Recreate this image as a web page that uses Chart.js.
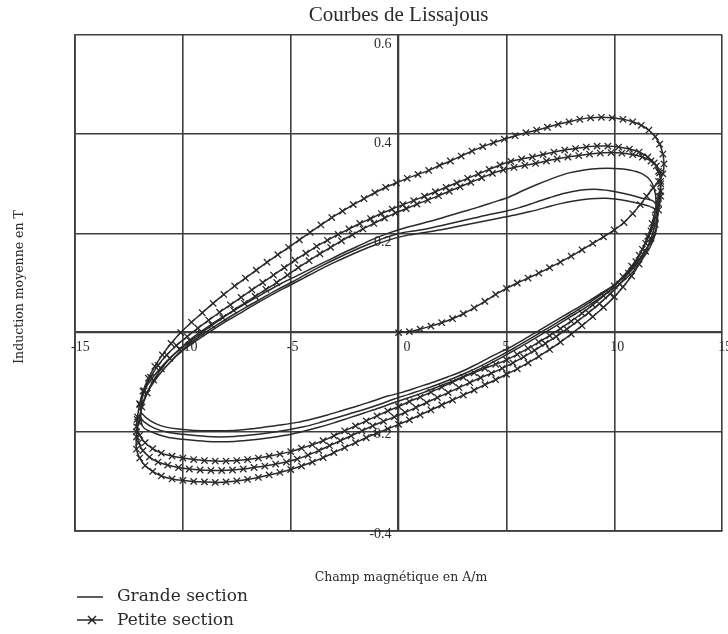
<!DOCTYPE html>
<html>
<head>
<meta charset="utf-8">
<title>Courbes de Lissajous</title>
<script src="https://cdn.jsdelivr.net/npm/chart.js"></script>
<style>
  html, body { margin: 0; padding: 0; background: #fff; }
  canvas { display: block; }
</style>
</head>
<body>
<canvas id="lissajous" width="728" height="634"></canvas>
<script>
// Champ H (A/m), induction B (T) : une branche par tableau
var hTicks = [-15, -10, -5, 0, 5, 10, 15];
var bTicks = [0.6, 0.4, 0.2, -0.2, -0.4];

// Grande section : trois cycles
var grandeUp1 = [[11.95,0.25],[11.9,0.28],[11.7,0.305],[11.3,0.32],[10.7,0.328],[10.0,0.331],[9.3,0.331],[8.6,0.328],[7.9,0.322],[7.2,0.312],[6.5,0.3],[5.8,0.287],[5.1,0.273],[4.4,0.263],[3.7,0.253],[3.0,0.244],[2.3,0.235],[1.6,0.226],[0.9,0.218],[0.2,0.21],[-0.5,0.2],[-1.2,0.188],[-1.9,0.174],[-2.6,0.16],[-3.3,0.145],[-4.0,0.13],[-4.7,0.115],[-5.4,0.1],[-6.1,0.083],[-6.8,0.066],[-7.5,0.048],[-8.2,0.03],[-8.9,0.01],[-9.6,-0.012],[-10.2,-0.035],[-10.8,-0.06],[-11.3,-0.085],[-11.7,-0.11],[-11.9,-0.135],[-11.95,-0.155]];
var grandeDown1 = [[-11.9,-0.163],[-11.5,-0.178],[-11.0,-0.188],[-10.3,-0.194],[-9.6,-0.197],[-8.9,-0.198],[-8.2,-0.198],[-7.5,-0.197],[-6.8,-0.194],[-6.1,-0.19],[-5.4,-0.186],[-4.7,-0.181],[-4.0,-0.174],[-3.3,-0.166],[-2.6,-0.157],[-1.9,-0.148],[-1.2,-0.138],[-0.5,-0.128],[0.2,-0.12],[0.9,-0.11],[1.6,-0.1],[2.3,-0.089],[3.0,-0.077],[3.7,-0.062],[4.4,-0.046],[5.1,-0.031],[5.8,-0.014],[6.5,0.004],[7.2,0.022],[7.9,0.04],[8.6,0.058],[9.3,0.077],[10.0,0.097],[10.6,0.12],[11.1,0.145],[11.5,0.17],[11.8,0.19],[11.95,0.21],[12.0,0.235]];
var grandeUp2 = [[12.0,0.25],[11.8,0.265],[11.2,0.272],[10.5,0.28],[9.8,0.286],[9.1,0.289],[8.4,0.287],[7.7,0.281],[7.0,0.272],[6.3,0.262],[5.6,0.252],[4.9,0.244],[4.2,0.238],[3.5,0.231],[2.8,0.224],[2.1,0.217],[1.4,0.21],[0.7,0.205],[0.0,0.2],[-0.7,0.19],[-1.4,0.178],[-2.1,0.165],[-2.8,0.151],[-3.5,0.136],[-4.2,0.12],[-4.9,0.103],[-5.6,0.087],[-6.3,0.07],[-7.0,0.053],[-7.7,0.035],[-8.4,0.016],[-9.1,-0.004],[-9.8,-0.026],[-10.4,-0.05],[-10.9,-0.075],[-11.4,-0.1],[-11.7,-0.125],[-11.9,-0.15],[-11.95,-0.17]];
var grandeDown2 = [[-11.8,-0.18],[-11.3,-0.193],[-10.7,-0.201],[-10.0,-0.205],[-9.3,-0.208],[-8.6,-0.21],[-7.9,-0.21],[-7.2,-0.208],[-6.5,-0.205],[-5.8,-0.201],[-5.1,-0.196],[-4.4,-0.19],[-3.7,-0.182],[-3.0,-0.173],[-2.3,-0.164],[-1.6,-0.155],[-0.9,-0.145],[-0.2,-0.134],[0.5,-0.124],[1.2,-0.114],[1.9,-0.103],[2.6,-0.091],[3.3,-0.078],[4.0,-0.063],[4.7,-0.047],[5.4,-0.03],[6.1,-0.012],[6.8,0.006],[7.5,0.024],[8.2,0.043],[8.9,0.062],[9.6,0.083],[10.3,0.106],[10.9,0.13],[11.3,0.155],[11.65,0.18],[11.9,0.205],[12.0,0.23]];
var grandeUp3 = [[12.0,0.245],[11.6,0.255],[11.0,0.262],[10.3,0.268],[9.6,0.271],[8.9,0.27],[8.2,0.266],[7.5,0.26],[6.8,0.252],[6.1,0.244],[5.4,0.237],[4.7,0.231],[4.0,0.225],[3.3,0.219],[2.6,0.213],[1.9,0.207],[1.2,0.202],[0.5,0.197],[-0.2,0.19],[-0.9,0.18],[-1.6,0.168],[-2.3,0.155],[-3.0,0.141],[-3.7,0.126],[-4.4,0.11],[-5.1,0.094],[-5.8,0.078],[-6.5,0.061],[-7.2,0.043],[-7.9,0.025],[-8.6,0.006],[-9.3,-0.014],[-10.0,-0.036],[-10.6,-0.06],[-11.1,-0.085],[-11.5,-0.11],[-11.8,-0.135],[-11.95,-0.16]];
var grandeDown3 = [[-11.85,-0.19],[-11.3,-0.203],[-10.7,-0.211],[-10.0,-0.215],[-9.3,-0.218],[-8.6,-0.22],[-7.9,-0.22],[-7.2,-0.218],[-6.5,-0.215],[-5.8,-0.211],[-5.1,-0.206],[-4.4,-0.199],[-3.7,-0.191],[-3.0,-0.182],[-2.3,-0.172],[-1.6,-0.162],[-0.9,-0.152],[-0.2,-0.141],[0.5,-0.131],[1.2,-0.12],[1.9,-0.108],[2.6,-0.096],[3.3,-0.083],[4.0,-0.068],[4.7,-0.052],[5.4,-0.035],[6.1,-0.017],[6.8,0.001],[7.5,0.019],[8.2,0.038],[8.9,0.057],[9.6,0.078],[10.3,0.1],[10.9,0.124],[11.3,0.148],[11.65,0.172],[11.9,0.198],[12.0,0.225],[12.0,0.25]];

// Petite section : courbe de première aimantation puis trois cycles
var petiteInit = [[0,0],[0.5,0.002],[1.0,0.007],[1.5,0.013],[2.0,0.02],[2.5,0.028],[3.0,0.038],[3.5,0.05],[4.0,0.063],[4.5,0.077],[5.0,0.089],[5.5,0.1],[6.0,0.11],[6.5,0.12],[7.0,0.131],[7.5,0.142],[8.0,0.154],[8.5,0.167],[9.0,0.18],[9.5,0.193],[10.0,0.207],[10.45,0.222],[10.85,0.24],[11.2,0.258],[11.5,0.275],[11.8,0.292],[12.05,0.305],[12.25,0.32]];
var petiteUp1 = [[12.3,0.34],[12.25,0.36],[12.1,0.38],[11.9,0.395],[11.6,0.408],[11.25,0.418],[10.85,0.425],[10.4,0.43],[9.9,0.433],[9.4,0.434],[8.9,0.433],[8.4,0.43],[7.9,0.425],[7.4,0.42],[6.9,0.414],[6.4,0.408],[5.9,0.403],[5.4,0.397],[4.9,0.39],[4.4,0.383],[3.9,0.375],[3.4,0.366],[2.9,0.356],[2.4,0.346],[1.9,0.337],[1.4,0.327],[0.9,0.319],[0.4,0.311],[-0.1,0.302],[-0.6,0.293],[-1.1,0.282],[-1.6,0.27],[-2.1,0.258],[-2.6,0.245],[-3.1,0.232],[-3.6,0.217],[-4.1,0.202],[-4.6,0.187],[-5.1,0.172],[-5.6,0.157],[-6.1,0.142],[-6.6,0.126],[-7.1,0.11],[-7.6,0.094],[-8.1,0.077],[-8.6,0.059],[-9.1,0.04],[-9.6,0.021],[-10.1,0.0],[-10.55,-0.022],[-10.95,-0.045],[-11.3,-0.068],[-11.6,-0.092],[-11.85,-0.118],[-12.0,-0.143],[-12.1,-0.17]];
var petiteDown1 = [[-12.15,-0.19],[-12.0,-0.207],[-11.75,-0.222],[-11.4,-0.234],[-11.0,-0.243],[-10.5,-0.249],[-10.0,-0.253],[-9.5,-0.256],[-9.0,-0.258],[-8.5,-0.259],[-8.0,-0.259],[-7.5,-0.258],[-7.0,-0.256],[-6.5,-0.253],[-6.0,-0.249],[-5.5,-0.245],[-5.0,-0.24],[-4.5,-0.233],[-4.0,-0.226],[-3.5,-0.218],[-3.0,-0.208],[-2.5,-0.198],[-2.0,-0.188],[-1.5,-0.178],[-1.0,-0.168],[-0.5,-0.158],[0.0,-0.149],[0.5,-0.139],[1.0,-0.13],[1.5,-0.12],[2.0,-0.11],[2.5,-0.1],[3.0,-0.09],[3.5,-0.081],[4.0,-0.072],[4.5,-0.064],[5.0,-0.055],[5.5,-0.044],[6.0,-0.032],[6.5,-0.019],[7.0,-0.006],[7.5,0.008],[8.0,0.023],[8.5,0.039],[9.0,0.056],[9.5,0.074],[10.0,0.094],[10.4,0.113],[10.8,0.134],[11.15,0.156],[11.45,0.18],[11.7,0.205],[11.9,0.232],[12.05,0.26],[12.15,0.285]];
var petiteUp2 = [[12.15,0.305],[12.05,0.325],[11.85,0.342],[11.55,0.354],[11.15,0.364],[10.7,0.37],[10.2,0.374],[9.7,0.376],[9.2,0.376],[8.7,0.374],[8.2,0.371],[7.7,0.368],[7.2,0.364],[6.7,0.359],[6.2,0.354],[5.7,0.35],[5.2,0.345],[4.7,0.338],[4.2,0.329],[3.7,0.32],[3.2,0.311],[2.7,0.302],[2.2,0.293],[1.7,0.284],[1.2,0.275],[0.7,0.266],[0.2,0.258],[-0.3,0.249],[-0.8,0.24],[-1.3,0.23],[-1.8,0.22],[-2.3,0.209],[-2.8,0.198],[-3.3,0.186],[-3.8,0.174],[-4.3,0.16],[-4.8,0.146],[-5.3,0.131],[-5.8,0.116],[-6.3,0.101],[-6.8,0.086],[-7.3,0.071],[-7.8,0.056],[-8.3,0.041],[-8.8,0.025],[-9.3,0.009],[-9.8,-0.008],[-10.3,-0.026],[-10.75,-0.045],[-11.15,-0.066],[-11.5,-0.09],[-11.8,-0.117],[-12.0,-0.145],[-12.12,-0.175],[-12.15,-0.2]];
var petiteDown2 = [[-12.05,-0.222],[-11.85,-0.238],[-11.55,-0.251],[-11.15,-0.261],[-10.7,-0.267],[-10.2,-0.272],[-9.7,-0.275],[-9.2,-0.277],[-8.7,-0.278],[-8.2,-0.278],[-7.7,-0.277],[-7.2,-0.275],[-6.7,-0.272],[-6.2,-0.269],[-5.7,-0.265],[-5.2,-0.261],[-4.7,-0.255],[-4.2,-0.247],[-3.7,-0.238],[-3.2,-0.228],[-2.7,-0.218],[-2.2,-0.208],[-1.7,-0.198],[-1.2,-0.188],[-0.7,-0.179],[-0.2,-0.17],[0.3,-0.161],[0.8,-0.151],[1.3,-0.141],[1.8,-0.131],[2.3,-0.121],[2.8,-0.111],[3.3,-0.101],[3.8,-0.091],[4.3,-0.082],[4.8,-0.072],[5.3,-0.061],[5.8,-0.049],[6.3,-0.036],[6.8,-0.022],[7.3,-0.008],[7.8,0.007],[8.3,0.023],[8.8,0.04],[9.3,0.058],[9.8,0.078],[10.25,0.098],[10.65,0.12],[11.0,0.143],[11.3,0.168],[11.55,0.194],[11.75,0.22],[11.9,0.247],[12.05,0.275],[12.15,0.3]];
var petiteUp3 = [[12.1,0.322],[11.95,0.336],[11.7,0.346],[11.3,0.354],[10.85,0.359],[10.35,0.362],[9.85,0.363],[9.35,0.362],[8.85,0.36],[8.35,0.357],[7.85,0.354],[7.35,0.35],[6.85,0.346],[6.35,0.341],[5.85,0.337],[5.35,0.333],[4.85,0.328],[4.35,0.321],[3.85,0.312],[3.35,0.303],[2.85,0.294],[2.35,0.285],[1.85,0.276],[1.35,0.267],[0.85,0.259],[0.35,0.25],[-0.15,0.241],[-0.65,0.231],[-1.15,0.22],[-1.65,0.209],[-2.15,0.197],[-2.65,0.185],[-3.15,0.172],[-3.65,0.159],[-4.15,0.145],[-4.65,0.131],[-5.15,0.116],[-5.65,0.101],[-6.15,0.087],[-6.65,0.073],[-7.15,0.059],[-7.65,0.045],[-8.15,0.03],[-8.65,0.015],[-9.15,-0.001],[-9.65,-0.017],[-10.15,-0.034],[-10.6,-0.052],[-11.0,-0.073],[-11.35,-0.096],[-11.65,-0.122],[-11.9,-0.15],[-12.05,-0.18],[-12.15,-0.21]];
var petiteDown3 = [[-12.15,-0.235],[-12.0,-0.253],[-11.75,-0.268],[-11.4,-0.28],[-11.0,-0.289],[-10.5,-0.295],[-10.0,-0.298],[-9.5,-0.3],[-9.0,-0.301],[-8.5,-0.302],[-8.0,-0.301],[-7.5,-0.299],[-7.0,-0.296],[-6.5,-0.292],[-6.0,-0.287],[-5.5,-0.282],[-5.0,-0.276],[-4.5,-0.269],[-4.0,-0.261],[-3.5,-0.252],[-3.0,-0.242],[-2.5,-0.232],[-2.0,-0.222],[-1.5,-0.212],[-1.0,-0.203],[-0.5,-0.194],[0.0,-0.185],[0.5,-0.176],[1.0,-0.166],[1.5,-0.156],[2.0,-0.146],[2.5,-0.136],[3.0,-0.126],[3.5,-0.116],[4.0,-0.105],[4.5,-0.095],[5.0,-0.084],[5.5,-0.073],[6.0,-0.061],[6.5,-0.048],[7.0,-0.034],[7.5,-0.019],[8.0,-0.003],[8.5,0.014],[9.0,0.032],[9.5,0.051],[10.0,0.072],[10.4,0.092],[10.8,0.114],[11.15,0.138],[11.45,0.164],[11.7,0.19],[11.9,0.218],[12.05,0.247],[12.15,0.275]];

var grande = [grandeUp1, grandeDown1, grandeUp2, grandeDown2, grandeUp3, grandeDown3];
var petite = [petiteInit, petiteUp1, petiteDown1, petiteUp2, petiteDown2, petiteUp3, petiteDown3];

function toPoints(branches) {
    var pts = [];
    branches.forEach(function (b) {
        b.forEach(function (p) { pts.push({ x: p[0], y: p[1] }); });
    });
    return pts;
}

var ink = '#2a2a2a';
var gridInk = '#3e3e3e';
var serif = '"Liberation Serif", "Times New Roman", serif';
var wide = '"DejaVu Serif", serif';

// Titre, graduations posées sur les axes du zéro et légende dessinés à la main
var annotations = {
    id: 'annotations',
    beforeDatasetsDraw: function (chart) {
        var ctx = chart.ctx;
        var sx = chart.scales.x, sy = chart.scales.y;
        var x0 = sx.getPixelForValue(0), y0 = sy.getPixelForValue(0);
        ctx.save();
        ctx.fillStyle = ink;
        ctx.font = '14px ' + serif;
        ctx.textBaseline = 'top';
        ctx.textAlign = 'left';
        hTicks.forEach(function (v) {
            var px = sx.getPixelForValue(v);
            ctx.fillText(String(v), v === 0 ? px + 5 : px - 4, y0 + 8);
        });
        ctx.textAlign = 'right';
        bTicks.forEach(function (v) {
            var py = sy.getPixelForValue(v);
            ctx.fillText(v.toFixed(1), x0 - 7, v > 0 ? py + 2 : py - 4);
        });
        ctx.restore();
    },
    afterDraw: function (chart) {
        var ctx = chart.ctx;
        var area = chart.chartArea;
        ctx.save();
        ctx.fillStyle = ink;
        ctx.strokeStyle = ink;
        ctx.textBaseline = 'middle';

        ctx.textAlign = 'center';
        ctx.font = '21px ' + serif;
        ctx.fillText('Courbes de Lissajous', (area.left + area.right) / 2, 15);

        ctx.font = '12.5px ' + wide;
        ctx.fillText('Champ magnétique en A/m', 401, 578);

        ctx.save();
        ctx.translate(20, 287);
        ctx.rotate(-Math.PI / 2);
        ctx.fillText('Induction moyenne en T', 0, 0);
        ctx.restore();

        // légende
        ctx.textAlign = 'left';
        ctx.font = '17px ' + wide;
        ctx.lineWidth = 1.5;
        ctx.beginPath();
        ctx.moveTo(77, 597); ctx.lineTo(103, 597);
        ctx.moveTo(77, 620); ctx.lineTo(103, 620);
        ctx.moveTo(88, 616); ctx.lineTo(96, 624);
        ctx.moveTo(88, 624); ctx.lineTo(96, 616);
        ctx.stroke();
        ctx.fillText('Grande section', 117, 597);
        ctx.fillText('Petite section', 117, 621);
        ctx.restore();
    }
};

var zeroAware = function (c) {
    return Math.abs(c.tick.value) < 1e-9 ? 2.3 : 1.6;
};

var ctx = document.getElementById('lissajous');
var chart = new Chart(ctx, {
    type: 'scatter',
    data: {
        datasets: [
            {
                label: 'Grande section',
                data: toPoints(grande),
                showLine: true,
                borderColor: ink,
                borderWidth: 1.5,
                pointRadius: 0,
                tension: 0.3
            },
            {
                label: 'Petite section',
                data: toPoints(petite),
                showLine: true,
                borderColor: ink,
                borderWidth: 1.5,
                pointStyle: 'crossRot',
                pointRadius: 4.5,
                pointBorderWidth: 1.3,
                pointBorderColor: ink,
                tension: 0.3
            }
        ]
    },
    options: {
        responsive: false,
        animation: false,
        devicePixelRatio: 1,
        layout: { padding: { left: 75, right: 5, top: 35, bottom: 103 } },
        plugins: {
            legend: { display: false },
            title: { display: false },
            tooltip: { enabled: false }
        },
        scales: {
            x: {
                type: 'linear',
                min: -15,
                max: 15,
                ticks: { display: false, stepSize: 5 },
                grid: { color: gridInk, lineWidth: zeroAware, drawTicks: false },
                border: { display: true, color: gridInk, width: 1.8 }
            },
            y: {
                type: 'linear',
                min: -0.4,
                max: 0.6,
                ticks: { display: false, stepSize: 0.2 },
                grid: { color: gridInk, lineWidth: zeroAware, drawTicks: false },
                border: { display: true, color: gridInk, width: 1.8 }
            }
        }
    },
    plugins: [annotations]
});
</script>
</body>
</html>
